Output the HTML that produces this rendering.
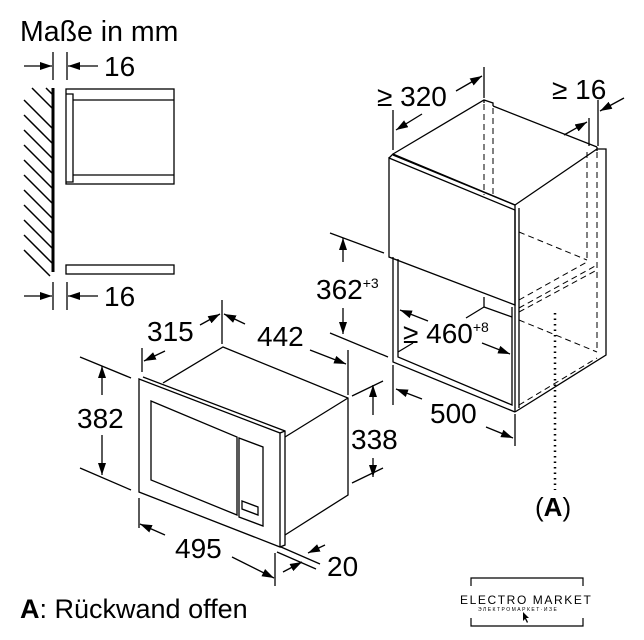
<!DOCTYPE html>
<html><head><meta charset="utf-8"><style>
html,body{margin:0;padding:0;background:#fff;}
svg{display:block;}
text{font-family:"Liberation Sans",sans-serif;fill:#000;}
</style></head><body>
<svg width="644" height="640" viewBox="0 0 644 640" xmlns="http://www.w3.org/2000/svg">
<defs>
<marker id="a" viewBox="0 0 12 8" refX="12" refY="4" markerWidth="12" markerHeight="8" markerUnits="userSpaceOnUse" orient="auto">
<path d="M0,0 L12,4 L0,8 z" fill="#000"/></marker>
</defs>
<g stroke="#000" stroke-width="1.3" fill="none">
<line x1="53" y1="88" x2="53" y2="272" stroke-width="3"/>
<g stroke-width="1.5">
<line x1="32" y1="88" x2="52" y2="108"/><line x1="46" y1="88" x2="52" y2="94"/>
<line x1="24" y1="100" x2="52" y2="128"/><line x1="24" y1="115" x2="52" y2="143"/>
<line x1="24" y1="130" x2="52" y2="158"/><line x1="24" y1="145" x2="52" y2="173"/>
<line x1="24" y1="160" x2="52" y2="188"/><line x1="24" y1="175" x2="52" y2="203"/>
<line x1="24" y1="190" x2="52" y2="218"/><line x1="24" y1="205" x2="52" y2="233"/>
<line x1="24" y1="220" x2="52" y2="248"/><line x1="24" y1="235" x2="52" y2="263"/>
<line x1="24" y1="250" x2="50" y2="276"/>
</g>
<line x1="53" y1="52" x2="53" y2="80"/><line x1="67" y1="52" x2="67" y2="80"/>
<line x1="24" y1="66" x2="52" y2="66" marker-end="url(#a)"/>
<line x1="98" y1="66" x2="68" y2="66" marker-end="url(#a)"/>
<line x1="53" y1="282" x2="53" y2="310"/><line x1="67" y1="282" x2="67" y2="310"/>
<line x1="24" y1="296" x2="52" y2="296" marker-end="url(#a)"/>
<line x1="98" y1="296" x2="68" y2="296" marker-end="url(#a)"/>
<rect x="66" y="89" width="108" height="95"/>
<line x1="73" y1="100" x2="174" y2="100"/><line x1="73" y1="175" x2="174" y2="175"/>
<polyline points="66,94 73,94 73,182 66,182"/>
<rect x="66" y="265" width="108" height="9"/>

<polyline points="393,154 484,100 493,103 493,106"/>
<line x1="484" y1="100" x2="484" y2="103"/>
<line x1="493" y1="106" x2="597" y2="147"/>
<polyline points="389,158 393,154 515,205"/>
<polygon points="389,158 515,210 515,305 389,257"/>
<line x1="393" y1="155" x2="515" y2="205"/>
<polyline points="515,205 515,412"/>
<polyline points="515,205 597,149 606,149 606,355 515,412"/>
<line x1="519" y1="208" x2="519" y2="408"/>
<line x1="597" y1="147" x2="597" y2="151"/>
<polyline points="393,257 393,362 515,412"/>
<polyline points="398,259 398,357 512,405 512,307"/>
<line x1="484" y1="297" x2="484" y2="307"/>
<line x1="484" y1="307" x2="512" y2="317"/>
<line x1="484" y1="307" x2="466" y2="318"/>
<g stroke-dasharray="6,4" stroke-width="1">
<line x1="484" y1="104" x2="484" y2="195"/><line x1="493" y1="108" x2="493" y2="198"/>
<line x1="587" y1="152" x2="587" y2="260"/><line x1="597" y1="152" x2="597" y2="350"/>
<line x1="519" y1="232" x2="587" y2="260"/>
<line x1="519" y1="300" x2="587" y2="262"/><line x1="519" y1="308" x2="597" y2="265"/>
<line x1="519" y1="312" x2="597" y2="270"/>
<line x1="519" y1="320" x2="597" y2="352"/>
<line x1="519" y1="405" x2="597" y2="358"/>
</g>
<line x1="555" y1="313" x2="555" y2="490" stroke-dasharray="1.5,4" stroke-width="2.5"/>

<line x1="393" y1="110" x2="393" y2="150"/><line x1="484" y1="67" x2="484" y2="98"/>
<line x1="422" y1="114" x2="396" y2="130" marker-end="url(#a)"/>
<line x1="456" y1="91" x2="482" y2="76" marker-end="url(#a)"/>
<line x1="589" y1="118" x2="589" y2="146"/><line x1="598" y1="100" x2="598" y2="146"/>
<line x1="564" y1="135" x2="587" y2="122" marker-end="url(#a)"/>
<line x1="624" y1="98" x2="600" y2="111" marker-end="url(#a)"/>
<line x1="330" y1="233" x2="384" y2="253"/><line x1="330" y1="333" x2="388" y2="357"/>
<line x1="343" y1="262" x2="343" y2="238" marker-end="url(#a)"/>
<line x1="343" y1="308" x2="343" y2="334" marker-end="url(#a)"/>
<line x1="428" y1="321" x2="400" y2="310" marker-end="url(#a)"/>
<line x1="482" y1="343" x2="510" y2="354" marker-end="url(#a)"/>
<line x1="413" y1="343" x2="398" y2="352"/>
<line x1="393" y1="365" x2="393" y2="405"/><line x1="515" y1="414" x2="515" y2="446"/>
<line x1="422" y1="399" x2="396" y2="389" marker-end="url(#a)"/>
<line x1="486" y1="427" x2="513" y2="438" marker-end="url(#a)"/>

<polygon points="139,379 280,433 280,547 139,492"/>
<polyline points="143,377 285,431 285,545 280,547"/>
<line x1="280" y1="433" x2="285" y2="431"/>
<polyline points="163,383 223,347 348,398 348,495 285,535"/>
<line x1="285" y1="437" x2="348" y2="398"/>
<polygon points="151,401 237,437 237,515 151,480"/>
<polygon points="239,438 263,447 263,526 239,517"/>
<polygon points="242,501 258,507 258,515 242,509"/>
<line x1="142" y1="348" x2="142" y2="372"/><line x1="222" y1="300" x2="222" y2="344"/>
<line x1="165" y1="351" x2="144" y2="361" marker-end="url(#a)"/>
<line x1="200" y1="325" x2="220" y2="314" marker-end="url(#a)"/>
<line x1="245" y1="324" x2="224" y2="314" marker-end="url(#a)"/>
<line x1="310" y1="350" x2="346" y2="364" marker-end="url(#a)"/>
<line x1="348" y1="350" x2="348" y2="395"/>
<line x1="80" y1="357" x2="131" y2="378"/><line x1="80" y1="468" x2="131" y2="490"/>
<line x1="102" y1="395" x2="102" y2="366" marker-end="url(#a)"/>
<line x1="102" y1="435" x2="102" y2="475" marker-end="url(#a)"/>
<line x1="352" y1="396" x2="383" y2="381"/><line x1="352" y1="483" x2="383" y2="468"/>
<line x1="373" y1="415" x2="373" y2="385" marker-end="url(#a)"/>
<line x1="373" y1="458" x2="373" y2="477" marker-end="url(#a)"/>
<line x1="139" y1="498" x2="139" y2="528"/><line x1="275" y1="553" x2="275" y2="586"/>
<line x1="165" y1="535" x2="140" y2="524" marker-end="url(#a)"/>
<line x1="232" y1="557" x2="274" y2="578" marker-end="url(#a)"/>
<line x1="281" y1="547" x2="320" y2="564"/><line x1="277" y1="552" x2="316" y2="569"/>
<line x1="325" y1="545" x2="308" y2="553" marker-end="url(#a)"/>
<line x1="283" y1="572" x2="302" y2="562" marker-end="url(#a)"/>

<polyline points="471,586 471,578 583,578 583,586" stroke-width="1.2"/>
<polyline points="471,618 471,626 583,626 583,618" stroke-width="1.2"/>
</g>
<path d="M523,612 l0,9 l2,-2 l2,4 l1,-1 l-2,-4 l3,0 z" fill="#000"/>

<g font-size="28">
<text x="20" y="41" font-size="28.5">Maße in mm</text>
<text x="104" y="76">16</text>
<text x="104" y="306">16</text>
<text x="377" y="106">≥ 320</text>
<text x="552" y="99">≥ 16</text>
<text x="316" y="299">362<tspan font-size="14" dy="-11">+3</tspan></text>
<text x="403" y="343">≥ 460<tspan font-size="14" dy="-11">+8</tspan></text>
<text x="430" y="423">500</text>
<text x="147" y="341">315</text>
<text x="257" y="346">442</text>
<text x="77" y="428">382</text>
<text x="351" y="449">338</text>
<text x="175" y="558">495</text>
<text x="327" y="576">20</text>
<text x="535" y="516" font-size="26">(<tspan font-weight="bold">A</tspan>)</text>
<text x="20" y="618" font-size="27"><tspan font-weight="bold">A</tspan>: Rückwand offen</text>
</g>
<text x="460" y="604" font-size="12" letter-spacing="1.6">ELECTRO MARKET</text>
<text x="478" y="611" font-size="5" letter-spacing="1.5" fill="#444">ЭЛЕКТРОМАРКЕТ·ИЗЕ</text>
</svg>
</body></html>
